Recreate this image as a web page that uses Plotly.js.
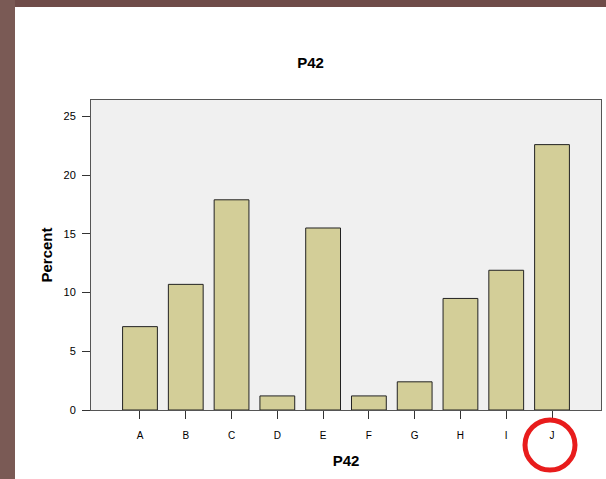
<!DOCTYPE html>
<html>
<head>
<meta charset="utf-8">
<script src="https://cdn.plot.ly/plotly-3.0.1.min.js"></script>
<style>
  html, body { margin: 0; padding: 0; width: 606px; height: 479px; overflow: hidden; background: #6f4c49; }
  #frame { position: absolute; left: 0; top: 0; width: 15px; height: 479px; background: #7a5a55; }
  #chart { position: absolute; left: 15px; top: 7px; width: 591px; height: 472px; background: #ffffff; }
</style>
</head>
<body>
<div id="frame"></div>
<div id="chart"></div>
<script>
const categories = ["A", "B", "C", "D", "E", "F", "G", "H", "I", "J"];
const percents = [7.1, 10.7, 17.9, 1.2, 15.5, 1.2, 2.4, 9.5, 11.9, 22.6];
const yTicks = [0, 5, 10, 15, 20, 25];
const chartTitle = "P42";
const xTitle = "P42";
const yTitle = "Percent";

const font = "Liberation Sans, Arial, sans-serif";

const trace = {
  type: "bar",
  x: categories,
  y: percents,
  width: 0.76,
  marker: { color: "#d3ce98", line: { color: "#222222", width: 1 } },
  hoverinfo: "x+y"
};

const layout = {
  width: 591,
  height: 472,
  margin: { l: 76, r: 5, t: 93, b: 69 },
  paper_bgcolor: "#ffffff",
  plot_bgcolor: "#f0f0f0",
  showlegend: false,
  font: { family: font, color: "#000000", size: 10 },
  title: { text: chartTitle, font: { family: font, size: 15, weight: "bold", color: "#000" }, x: 0.5, xanchor: "center", y: 1 - 56 / 472, yanchor: "middle" },
  xaxis: {
    type: "category",
    range: [-1.07, 10.07],
    showgrid: false,
    zeroline: false,
    showline: true,
    linecolor: "#555555",
    linewidth: 1,
    mirror: true,
    ticks: "outside",
    ticklen: 8,
    tickcolor: "#333333",
    tickwidth: 1,
    ticklabelstandoff: 8,
    tickfont: { family: font, size: 10, color: "#000" },
    title: { text: xTitle, font: { family: font, size: 15, weight: "bold", color: "#000" }, standoff: 15 }
  },
  yaxis: {
    range: [0, 26.4],
    tickvals: yTicks,
    ticktext: yTicks.map(String),
    showgrid: false,
    zeroline: false,
    showline: true,
    linecolor: "#555555",
    linewidth: 1,
    mirror: true,
    ticks: "outside",
    ticklen: 8,
    tickcolor: "#333333",
    tickwidth: 1,
    ticklabelstandoff: 4,
    tickfont: { family: font, size: 11, color: "#000" },
    title: { text: yTitle, font: { family: font, size: 15, weight: "bold", color: "#000" }, standoff: 7 }
  },
  shapes: [{
    type: "circle",
    xref: "paper", yref: "paper",
    xsizemode: "pixel", ysizemode: "pixel",
    xanchor: 0.9, yanchor: -0.113,
    x0: -25, x1: 25, y0: -25, y1: 25,
    line: { color: "#e81c1c", width: 5 },
    fillcolor: "rgba(0,0,0,0)"
  }]
};

Plotly.newPlot("chart", [trace], layout, { displayModeBar: false, staticPlot: true });
</script>
</body>
</html>
